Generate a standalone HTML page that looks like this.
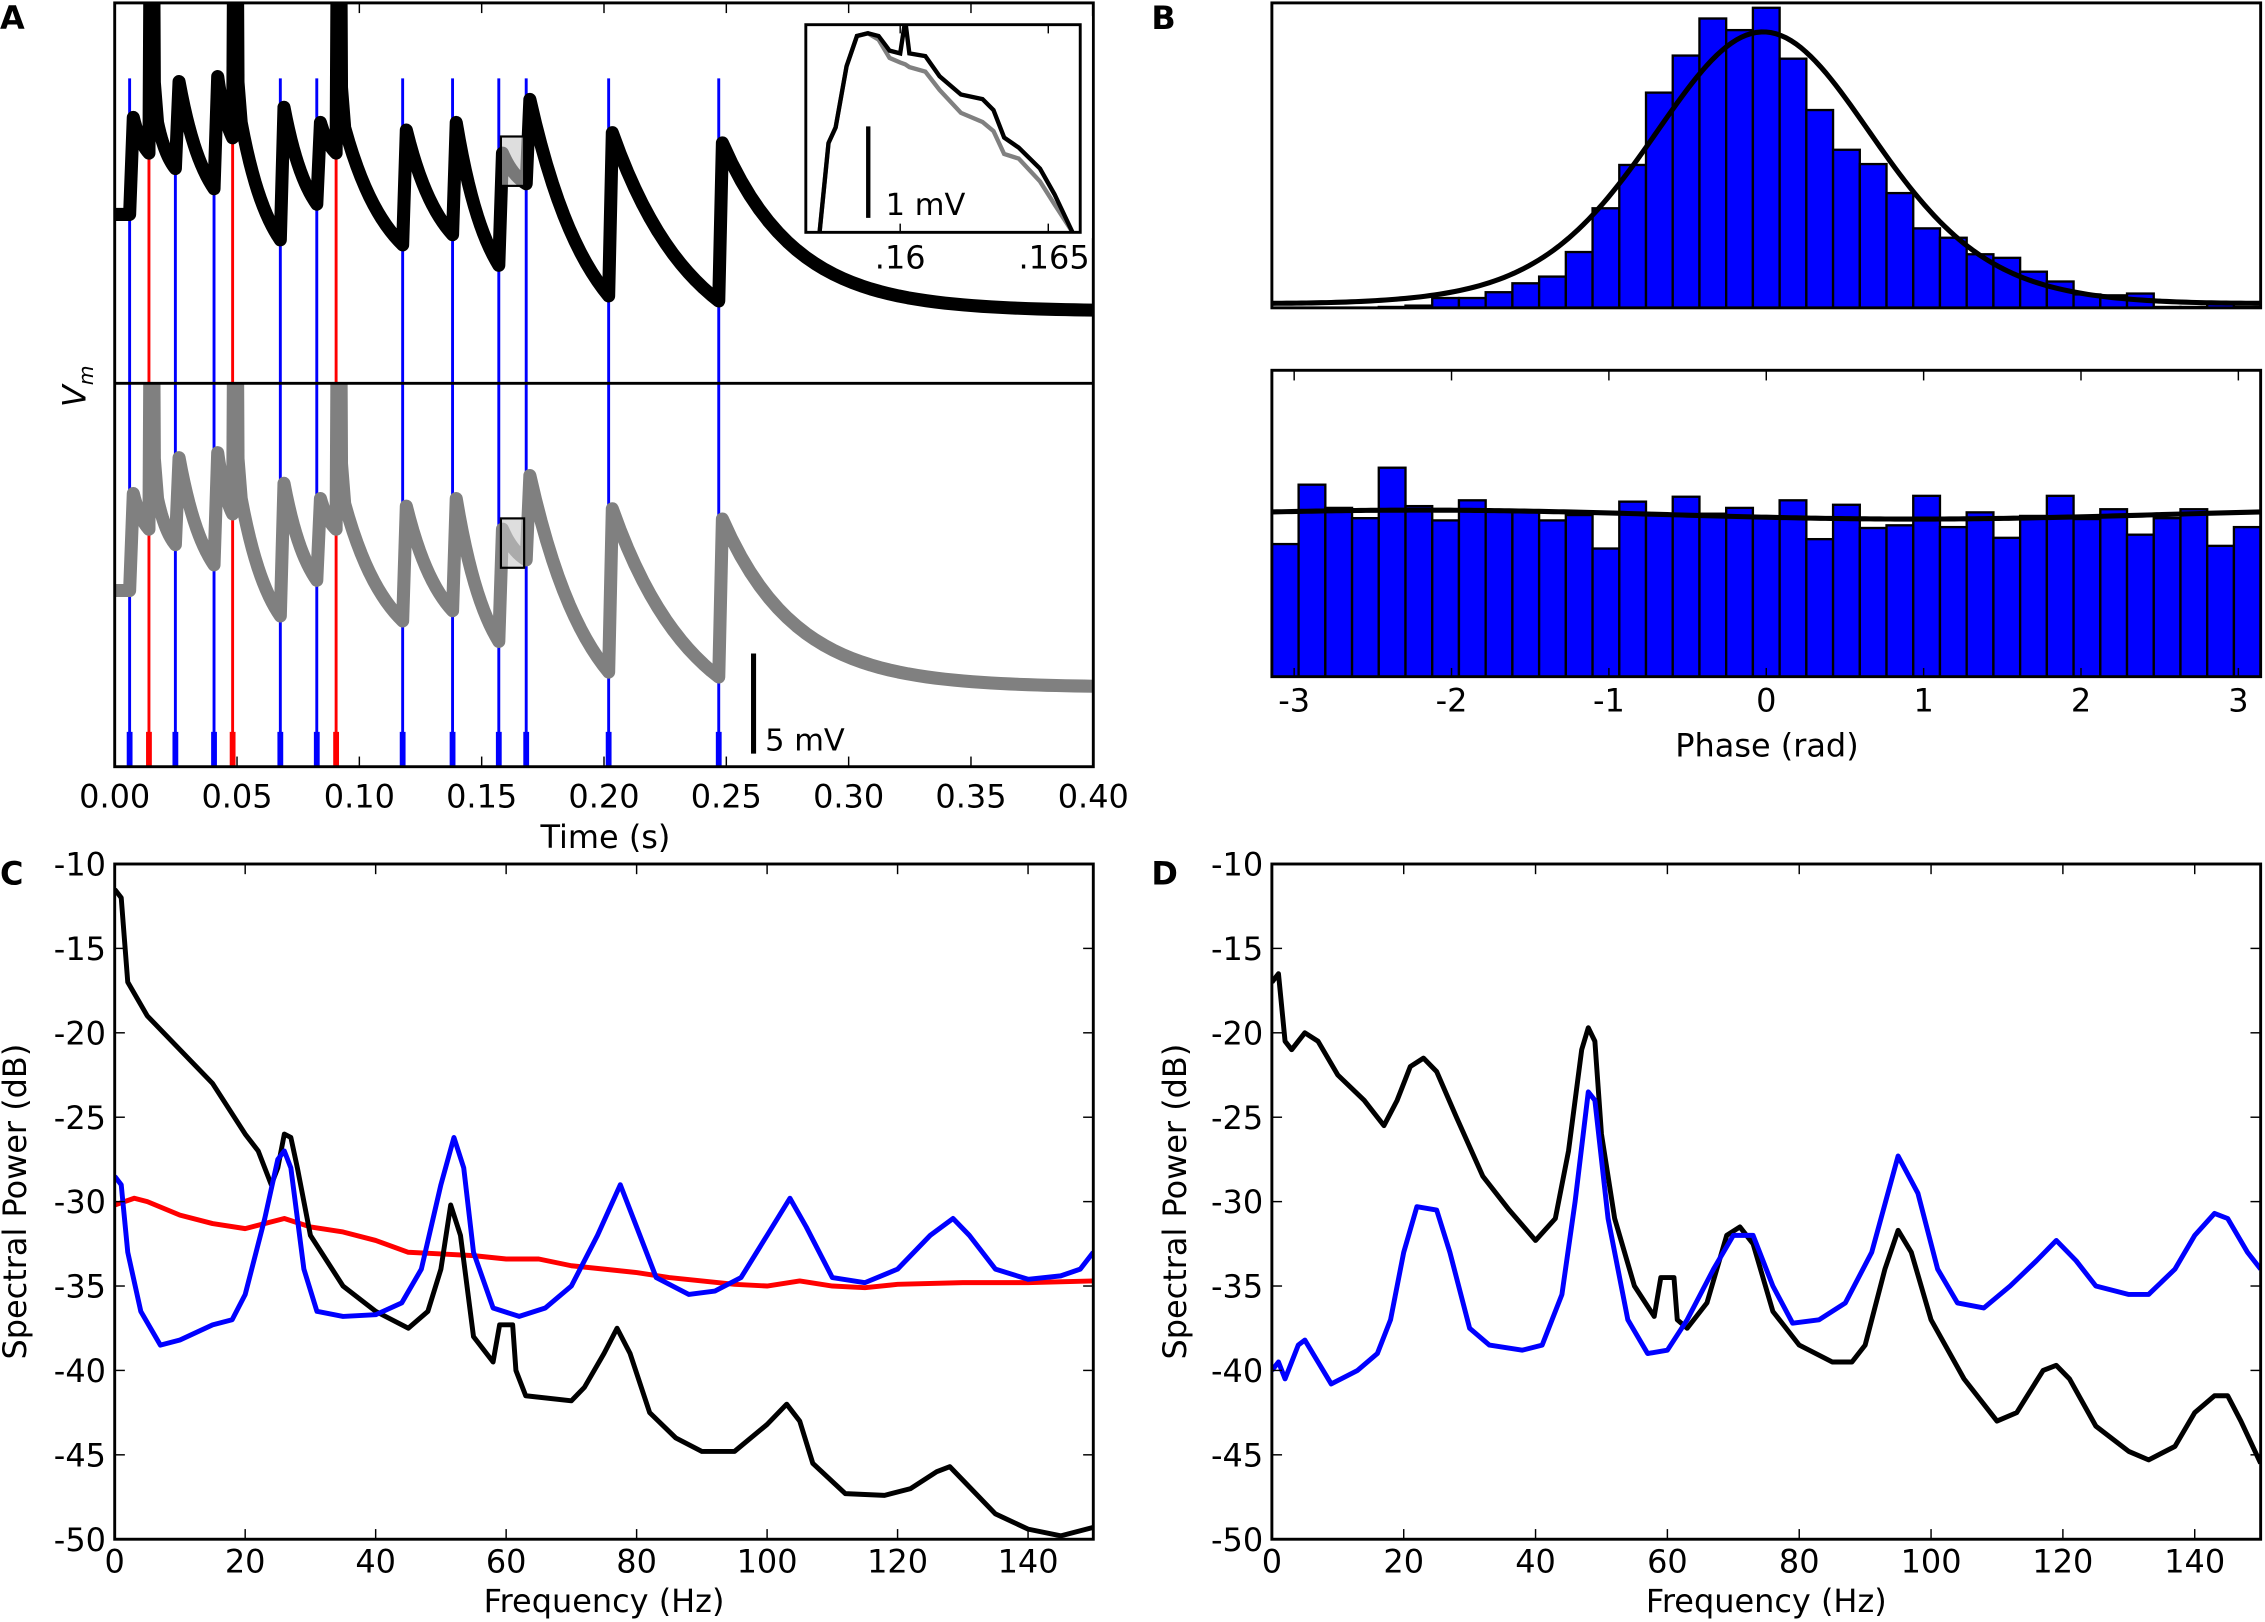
<!DOCTYPE html>
<html><head><meta charset="utf-8"><style>
html,body{margin:0;padding:0;background:#fff;}
svg{display:block;}
text{font-family:"DejaVu Sans","Liberation Sans",sans-serif;fill:#000;}
</style></head><body>
<svg id="fig" xmlns="http://www.w3.org/2000/svg" width="2265" height="1622" viewBox="0 0 1560 1117" preserveAspectRatio="none"></svg>
<script>
// ---------- Panel A data ----------
const aEventTimes = [0.0061,0.0140,0.0248,0.0406,0.0482,0.0677,0.0826,0.0905,0.1177,0.1381,0.1570,0.1682,0.2019,0.2469];
const aEventTypes = ['b','r','b','b','r','b','b','r','b','b','b','b','b','b'];
const aPreLevels  = [8.43,11.49,10.72,9.71,12.25,7.16,8.94,11.49,6.91,7.42,5.89,9.96,4.36,4.11];
const aPostLevels = [13.27,13.02,15.06,15.31,13.02,13.78,13.02,12.76,12.64,13.02,11.49,14.17,12.51,12.0];
const aStartLevel = 8.43;
const aBaseLevel = 3.6;
const aXTicks = [0,0.05,0.10,0.15,0.20,0.25,0.30,0.35,0.40];
const aXTickLabels = ['0.00','0.05','0.10','0.15','0.20','0.25','0.30','0.35','0.40'];
const insetTimes = [0.15728,0.15758,0.15782,0.15819,0.15854,0.15891,0.15927,0.15964,0.16,0.16017,0.16031,0.16085,0.16133,0.16205,0.16278,0.16315,0.16351,0.16400,0.16472,0.16521,0.16581];
const insetBlack = [0,0.97,1.14,1.81,2.14,2.17,2.14,1.98,1.95,2.31,1.95,1.92,1.70,1.50,1.45,1.33,1.03,0.92,0.69,0.41,0];
const insetGray  = [0,0.97,1.14,1.81,2.14,2.17,2.10,1.90,1.85,1.83,1.80,1.75,1.55,1.30,1.20,1.10,0.85,0.80,0.55,0.30,0];
// ---------- Panel B data ----------
const bTopCounts = [0,0,0,0,2,5,22,22,35,55,70,125,223,320,482,565,648,622,672,558,443,354,322,257,178,157,120,112,81,59,30,28,32,2,2,12,2];
const bBotCounts = [297,430,378,355,468,382,350,395,370,370,350,362,287,392,365,403,365,378,358,395,308,385,333,339,405,335,368,311,360,405,353,375,318,355,375,293,335];
const bTopFit = {amp:618, mu:-0.02, kappa:2.05};
const bBotFit = {base:363, amp:10, mu:-2.2};
const bXTicks = [-3,-2,-1,0,1,2,3];
// ---------- Panel C data ----------
const cBlackF = [0,1,2,5,10,15,20,22,24,25,26,27,28,30,35,40,45,48,50,51.5,53,55,58,59,61,61.5,63,70,72,75,77,79,82,86,90,95,100,103,105,107,112,118,122,126,128,130,135,140,145,150];
const cBlackP = [-11.5,-12,-17,-19,-21,-23,-26,-27,-29,-28,-26,-26.2,-28,-32,-35,-36.5,-37.5,-36.5,-34,-30.2,-32,-38,-39.5,-37.3,-37.3,-40,-41.5,-41.8,-41,-39,-37.5,-39,-42.5,-44,-44.8,-44.8,-43.2,-42,-43,-45.5,-47.3,-47.4,-47,-46,-45.7,-46.5,-48.5,-49.4,-49.8,-49.3];
const cBlueF = [0,1,2,4,7,10,15,18,20,23,25,26,27,29,31,35,40,44,47,50,52,53.5,55,58,62,66,70,74,77.5,80,83,88,92,96,100,103.5,106,110,115,120,125,128.5,131,135,140,145,148,150];
const cBlueP = [-28.5,-29,-33,-36.5,-38.5,-38.2,-37.3,-37,-35.5,-31,-27.5,-27,-28,-34,-36.5,-36.8,-36.7,-36,-34,-29,-26.2,-28,-33,-36.3,-36.8,-36.3,-35,-32,-29,-31.5,-34.5,-35.5,-35.3,-34.5,-32,-29.8,-31.5,-34.5,-34.8,-34,-32,-31,-32,-34,-34.6,-34.4,-34,-33];
const cRedF = [0,3,5,10,15,20,26,30,35,40,45,50,55,60,65,70,75,80,85,90,95,100,105,110,115,120,130,140,150];
const cRedP = [-30.2,-29.8,-30,-30.8,-31.3,-31.6,-31,-31.5,-31.8,-32.3,-33,-33.1,-33.2,-33.4,-33.4,-33.8,-34,-34.2,-34.5,-34.7,-34.9,-35,-34.7,-35,-35.1,-34.9,-34.8,-34.8,-34.7];
// ---------- Panel D data ----------
const dBlackF = [0,1,2,3,5,7,10,14,17,19,21,23,25,28,32,36,40,43,45,47,48,49,50,52,55,58,59,61,61.5,63,66,69,71,73,76,80,85,88,90,93,95,97,100,105,110,113,117,119,121,125,130,133,137,140,143,145,147,150];
const dBlackP = [-17,-16.5,-20.5,-21,-20,-20.5,-22.5,-24,-25.5,-24,-22,-21.5,-22.3,-25,-28.5,-30.5,-32.3,-31,-27,-21,-19.7,-20.5,-26,-31,-35,-36.8,-34.5,-34.5,-37,-37.5,-36,-32,-31.5,-32.5,-36.5,-38.5,-39.5,-39.5,-38.5,-34,-31.7,-33,-37,-40.5,-43,-42.5,-40,-39.7,-40.5,-43.3,-44.8,-45.3,-44.5,-42.5,-41.5,-41.5,-43,-45.5];
const dBlueF = [0,1,2,4,5,7,9,13,16,18,20,22,25,27,30,33,38,41,44,46,48,49,51,54,57,60,63,67,70,73,76,79,83,87,91,95,98,101,104,108,112,116,119,122,125,130,133,137,140,143,145,148,150];
const dBlueP = [-40,-39.5,-40.5,-38.5,-38.2,-39.5,-40.8,-40,-39,-37,-33,-30.3,-30.5,-33,-37.5,-38.5,-38.8,-38.5,-35.5,-30,-23.5,-24,-31,-37,-39,-38.8,-37,-34,-32,-32,-35,-37.2,-37,-36,-33,-27.3,-29.5,-34,-36,-36.3,-35,-33.5,-32.3,-33.5,-35,-35.5,-35.5,-34,-32,-30.7,-31,-33,-34];
const specYTicks = [-10,-15,-20,-25,-30,-35,-40,-45,-50];
const specXTicks = [0,20,40,60,80,100,120,140];

const NS='http://www.w3.org/2000/svg';
const svg=document.getElementById('fig');
function mk(tag,attrs,parent){const e=document.createElementNS(NS,tag);for(const k in attrs)e.setAttribute(k,attrs[k]);(parent||svg).appendChild(e);return e;}
function txt(s,x,y,size,anchor,parent,extra){const t=mk('text',Object.assign({x:x,y:y,'font-size':size,'text-anchor':anchor||'middle'},extra||{}),parent);t.textContent=s;return t;}
function poly(pts){return pts.map(p=>p[0].toFixed(2)+','+p[1].toFixed(2)).join(' ');}

// ===== Panel A =====
const AX0=79,AX1=753,AY0=2,AY1=528,ASEP=264,AMV=13.8,GOFF=259;
const ax=t=>AX0+(t/0.4)*(AX1-AX0);
const ayTop=v=>ASEP-v*AMV;
const gA=mk('g',{});


const defsA=mk('defs',{},gA);
mk('rect',{x:AX0,y:AY0,width:AX1-AX0,height:ASEP-AY0},mk('clipPath',{id:'clipA'},defsA));
mk('rect',{x:AX0,y:ASEP,width:AX1-AX0,height:AY1-ASEP},mk('clipPath',{id:'clipAbot'},defsA));
function tracePts(){
  const pts=[];pts.push([0,aStartLevel]);
  for(let i=0;i<aEventTimes.length;i++){
    const t0= i===0?0:aEventTimes[i-1]+(aEventTypes[i-1]==='r'?0.0035:0.0015);
    const v0= i===0?aStartLevel:aPostLevels[i-1];
    const t1=aEventTimes[i],v1=aPreLevels[i];
    const n=14;
    for(let k=1;k<=n;k++){const s=k/n;const f=(1-Math.exp(-1.3*s))/(1-Math.exp(-1.3));pts.push([t0+(t1-t0)*s,v0+(v1-v0)*f]);}
    if(aEventTypes[i]==='r'){pts.push([t1+0.0008,30]);pts.push([t1+0.0016,30]);pts.push([t1+0.0022,aPostLevels[i]+2]);pts.push([t1+0.0035,aPostLevels[i]]);}
    else{pts.push([t1+0.0015,aPostLevels[i]]);}
  }
  const tl=aEventTimes[aEventTimes.length-1]+0.0015,vl=aPostLevels[aPostLevels.length-1];
  for(let k=1;k<=40;k++){const t=tl+(0.4-tl)*k/40;pts.push([t,aBaseLevel+(vl-aBaseLevel)*Math.exp(-(t-tl)/0.03)]);}
  return pts;
}
const tp=tracePts();
aEventTimes.forEach((t,i)=>{
  const c=aEventTypes[i]==='r'?'#ff0000':'#0000ff';
  const l=mk('line',{x1:ax(t),x2:ax(t),y1:54,y2:AY1,stroke:c,'stroke-width':2},gA);
  
  
  const m=mk('line',{x1:ax(t),x2:ax(t),y1:504,y2:AY1,stroke:c,'stroke-width':4},gA);
  
  
});
const blackTr=mk('polyline',{points:poly(tp.map(p=>[ax(p[0]),ayTop(p[1])])),fill:'none',stroke:'#000','stroke-width':9,'stroke-linejoin':'round','clip-path':'url(#clipA)'},gA);


const grayTr=mk('polyline',{points:poly(tp.map(p=>[ax(p[0]),ayTop(p[1])+GOFF])),fill:'none',stroke:'#808080','stroke-width':9,'stroke-linejoin':'round','clip-path':'url(#clipAbot)'},gA);


const zb1=mk('rect',{x:345,y:94,width:16,height:34,fill:'rgba(200,200,200,0.6)',stroke:'#000','stroke-width':1.5},gA);

const zb2=mk('rect',{x:345,y:357,width:16,height:34,fill:'rgba(200,200,200,0.6)',stroke:'#000','stroke-width':1.5},gA);

mk('line',{x1:AX0,x2:AX1,y1:ASEP,y2:ASEP,stroke:'#000','stroke-width':2},gA);
const fa=mk('rect',{x:AX0,y:AY0,width:AX1-AX0,height:AY1-AY0,fill:'none',stroke:'#000','stroke-width':2},gA);

aXTicks.forEach((t,i)=>{
  mk('line',{x1:ax(t),x2:ax(t),y1:AY1,y2:AY1-7,stroke:'#000','stroke-width':1},gA);
  mk('line',{x1:ax(t),x2:ax(t),y1:AY0,y2:AY0+7,stroke:'#000','stroke-width':1},gA);
  const tl=txt(aXTickLabels[i],ax(t),556,22,'middle',gA);
  
});
const xt=txt('Time (s)',417,584,22,'middle',gA);
const vm=mk('text',{x:0,y:0,'font-size':22,'font-style':'italic','font-family':'Liberation Serif, serif',transform:'translate(59,266) rotate(-90)','text-anchor':'middle'},gA);
vm.innerHTML='V<tspan font-size="14" dy="5">m</tspan>';

const sb=mk('line',{x1:519,x2:519,y1:450,y2:519,stroke:'#000','stroke-width':3.5},gA);

const sbt=txt('5 mV',527,517,21,'start',gA);
// inset
const IX0=555,IX1=744,IY0=17,IY1=160;
const ix=t=>620+(t-0.16)*20400;
const iy=v=>159.6-v*63;
const gI=mk('g',{},gA);
mk('rect',{x:IX0-4,y:IY0-6,width:IX1-IX0+12,height:IY1-IY0+10,fill:'#fff',stroke:'none'},gI);
mk('rect',{x:IX0,y:IY0,width:IX1-IX0,height:IY1-IY0},mk('clipPath',{id:'clipI'},mk('defs',{},gI)));
const ig=mk('polyline',{points:poly(insetTimes.map((t,i)=>[ix(t),iy(insetGray[i])])),fill:'none',stroke:'#808080','stroke-width':3,'clip-path':'url(#clipI)'},gI);

const ib=mk('polyline',{points:poly(insetTimes.map((t,i)=>[ix(t),iy(insetBlack[i])])),fill:'none',stroke:'#000','stroke-width':3,'clip-path':'url(#clipI)'},gI);

mk('rect',{x:IX0,y:IY0,width:IX1-IX0,height:IY1-IY0,fill:'none',stroke:'#000','stroke-width':2},gI);
[0.16,0.165].forEach(t=>{mk('line',{x1:ix(t),x2:ix(t),y1:IY1,y2:IY1-6,stroke:'#000'},gI);mk('line',{x1:ix(t),x2:ix(t),y1:IY0,y2:IY0+6,stroke:'#000'},gI);});
txt('.16',ix(0.16),185,22,'middle',gI);
txt('.165',ix(0.165)+4,185,22,'middle',gI);
mk('line',{x1:598,x2:598,y1:87,y2:150,stroke:'#000','stroke-width':3},gI);
txt('1 mV',610,148,21,'start',gI);

// ===== Panel B =====
const BX0=876,BX1=1557;
const bx=v=>BX0+(v+Math.PI)/(2*Math.PI)*(BX1-BX0);
function histPanel(counts,y0,y1,scale,fitFn,name){
  const g=mk('g',{});
  
  
  const n=counts.length,w=(BX1-BX0)/n;
  counts.forEach((c,i)=>{
    const r=mk('rect',{x:BX0+i*w,y:y1-c*scale,width:w,height:c*scale,fill:'#0000ff',stroke:'#000','stroke-width':1.6},g);
    
    
  });
  const pts=[];for(let k=0;k<=200;k++){const v=-Math.PI+2*Math.PI*k/200;pts.push([bx(v),y1-fitFn(v)*scale]);}
  const f=mk('polyline',{points:poly(pts),fill:'none',stroke:'#000','stroke-width':3.5},g);
  
  
  mk('rect',{x:BX0,y:y0,width:BX1-BX0,height:y1-y0,fill:'none',stroke:'#000','stroke-width':2},g);
  return g;
}
histPanel(bTopCounts,2,212,0.3075,v=>bTopFit.amp*Math.exp(bTopFit.kappa*(Math.cos(v-bTopFit.mu)-1)),'phase-histogram-top');
const gb=histPanel(bBotCounts,255,466,0.3075,v=>bBotFit.base+bBotFit.amp*Math.cos(v-bBotFit.mu),'phase-histogram-bottom');
bXTicks.forEach(t=>{
  mk('line',{x1:bx(t),x2:bx(t),y1:466,y2:460,stroke:'#000'},gb);
  mk('line',{x1:bx(t),x2:bx(t),y1:255,y2:262,stroke:'#000'},gb);
  const l=txt(String(t),bx(t),490,22,'middle',gb);
});
const pl=txt('Phase (rad)',1217,521,22,'middle',gb);

// ===== Panels C & D =====
function specPanel(X0,X1,series,name,ylx){
  const Y0=595,Y1=1060;
  const sx=f=>X0+f/150*(X1-X0), sy=p=>Y0+(-10-p)/40*(Y1-Y0);
  const g=mk('g',{});
  
  
  mk('rect',{x:X0,y:Y0,width:X1-X0,height:Y1-Y0},mk('clipPath',{id:'clip'+name},mk('defs',{},g)));
  series.forEach(s=>{
    const l=mk('polyline',{points:poly(s.f.map((f,i)=>[sx(f),sy(s.p[i])])),fill:'none',stroke:s.c,'stroke-width':3.4,'stroke-linejoin':'round','clip-path':'url(#clip'+name+')'},g);
    
    
  });
  mk('rect',{x:X0,y:Y0,width:X1-X0,height:Y1-Y0,fill:'none',stroke:'#000','stroke-width':2},g);
  specXTicks.forEach(f=>{
    mk('line',{x1:sx(f),x2:sx(f),y1:Y1,y2:Y1-7,stroke:'#000'},g);
    mk('line',{x1:sx(f),x2:sx(f),y1:Y0,y2:Y0+7,stroke:'#000'},g);
    const t=txt(String(f),sx(f),1083,22,'middle',g);
  });
  specYTicks.forEach(p=>{
    mk('line',{x1:X0,x2:X0+7,y1:sy(p),y2:sy(p),stroke:'#000'},g);
    mk('line',{x1:X1,x2:X1-7,y1:sy(p),y2:sy(p),stroke:'#000'},g);
    const t=txt(String(p),X0-6,sy(p)+8,22,'end',g);
  });
  const xl=txt('Frequency (Hz)',(X0+X1)/2,1110,22,'middle',g);
  const yl=txt('Spectral Power (dB)',0,0,22,'middle',g,{transform:'translate('+ylx+','+((Y0+Y1)/2)+') rotate(-90)'});
  
}
specPanel(79,753,[{f:cRedF,p:cRedP,c:'#ff0000',n:'spectrum-red'},{f:cBlackF,p:cBlackP,c:'#000',n:'spectrum-black'},{f:cBlueF,p:cBlueP,c:'#0000ff',n:'spectrum-blue'}],'panel-c',18);
specPanel(876,1557,[{f:dBlackF,p:dBlackP,c:'#000',n:'spectrum-black'},{f:dBlueF,p:dBlueP,c:'#0000ff',n:'spectrum-blue'}],'panel-d',817);

[['A',0,20],['B',793,20],['C',0,609],['D',793,609]].forEach(a=>{
  const t=txt(a[0],a[1],a[2],22,'start',svg,{'font-weight':'bold'});
  
  
});
</script>
</body></html>
